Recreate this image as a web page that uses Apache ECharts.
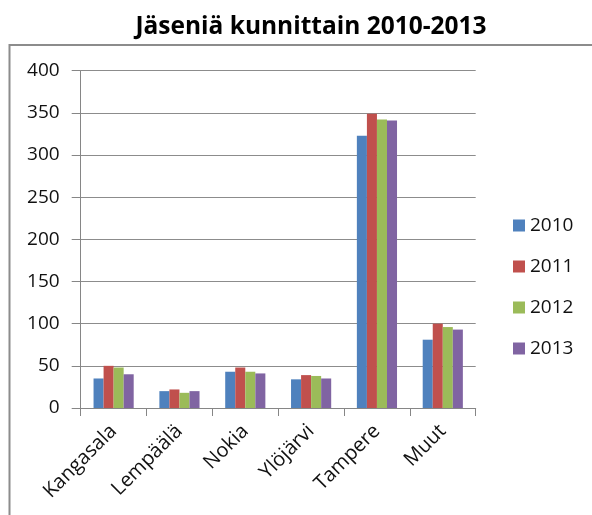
<!DOCTYPE html>
<html>
<head>
<meta charset="utf-8">
<script src="https://cdn.jsdelivr.net/npm/echarts@6/dist/echarts.min.js"></script>
<style>
  html, body { margin: 0; padding: 0; background: #fff; }
  #main { width: 592px; height: 515px; }
</style>
</head>
<body>
<div id="main"></div>
<script>
// kunnat ja jäsenmäärät vuosittain
var kunnat = ['Kangasala', 'Lempäälä', 'Nokia', 'Ylöjärvi', 'Tampere', 'Muut'];
var vuodet = ['2010', '2011', '2012', '2013'];
var v2010 = [35, 20, 43, 34, 323, 81];
var v2011 = [50, 22, 48, 39, 349, 100];
var v2012 = [48, 18, 43, 38, 342, 96];
var v2013 = [40, 20, 41, 35, 341, 93];
var yTicks = [0, 50, 100, 150, 200, 250, 300, 350, 400];

var varit = ['#4F81BD', '#C0504D', '#9BBB59', '#8064A2'];
var fontti = '"Open Sans", sans-serif';

var myChart = echarts.init(document.getElementById('main'));

var sarjat = [v2010, v2011, v2012, v2013].map(function (d, i) {
    return {
        name: vuodet[i],
        type: 'bar',
        data: d,
        barGap: '0%',
        barCategoryGap: '39%',
        itemStyle: { color: varit[i] }
    };
});

var option = {
    animation: false,
    title: {
        text: 'Jäseniä kunnittain 2010-2013',
        left: 306,
        textAlign: 'center',
        top: 10,
        textStyle: { fontFamily: fontti, fontSize: 24.5, fontWeight: 'bold', color: '#000' }
    },
    graphic: [{
        type: 'rect',
        shape: { x: 9.5, y: 45, width: 600, height: 500 },
        style: { fill: 'none', stroke: '#8c8c8c', lineWidth: 2 },
        silent: true
    }],
    legend: {
        orient: 'vertical',
        left: 508,
        top: 211,
        itemWidth: 12,
        itemHeight: 12,
        itemGap: 22,
        icon: 'rect',
        data: vuodet,
        textStyle: { fontFamily: fontti, fontSize: 19, color: '#111', padding: [0, 0, 0, 0] }
    },
    grid: { left: 80.7, top: 70.7, width: 395, height: 337.3, containLabel: false },
    xAxis: {
        type: 'category',
        data: kunnat,
        axisLine: { lineStyle: { color: '#868686', width: 1 } },
        axisTick: { show: true, length: 8, lineStyle: { color: '#868686' } },
        axisLabel: { rotate: 45, fontFamily: fontti, fontSize: 20, color: '#111', margin: 20, interval: 0 }
    },
    yAxis: {
        type: 'value',
        min: 0,
        max: 400,
        interval: 50,
        axisLine: { show: true, lineStyle: { color: '#868686', width: 1 } },
        axisTick: { show: true, length: 9, lineStyle: { color: '#868686' } },
        axisLabel: { fontFamily: fontti, fontSize: 19, color: '#111', margin: 21,
            formatter: function (v) { return yTicks.indexOf(v) >= 0 ? String(v) : ''; } },
        splitLine: { lineStyle: { color: '#8c8c8c', width: 1 } }
    },
    series: sarjat
};

myChart.setOption(option);
</script>
</body>
</html>
